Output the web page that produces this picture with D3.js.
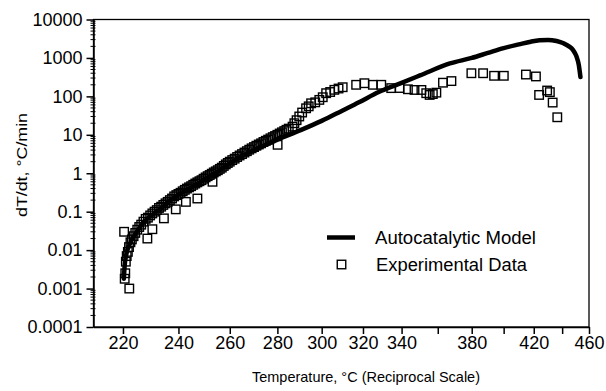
<!DOCTYPE html>
<html>
<head>
<meta charset="utf-8">
<script src="https://cdn.jsdelivr.net/npm/d3@7"></script>
<style>
  body { margin: 0; background: #fff; }
  svg text { font-family: "Liberation Sans", Arial, Helvetica, sans-serif; fill: #000; }
</style>
</head>
<body>
<svg id="chart" width="606" height="391"></svg>
<script>
// axis ticks
const tempTicks = [220, 240, 260, 280, 300, 320, 340, 360, 380, 400, 420, 440, 460];
const tempLabels = ["220", "240", "260", "280", "300", "320", "340", "", "380", "", "420", "", "460"];
const rateTicks = [1e-4, 1e-3, 1e-2, 1e-1, 1, 10, 100, 1000, 10000];
const rateLabels = ["0.0001", "0.001", "0.01", "0.1", "1", "10", "100", "1000", "10000"];

// autocatalytic model (degC, degC/min)
const modelTemp = [220.3, 220.6, 221.2, 222.1, 224.4, 228, 232.8, 239, 245.3, 250, 255, 260, 265, 270, 275, 280,
  290, 300, 310, 318, 328, 340, 350, 367, 380, 390, 400, 410, 418, 424, 430, 436, 441, 445, 448, 450.5, 452.3, 453.5];
const modelRate = [0.0018, 0.004, 0.008, 0.013, 0.027, 0.06, 0.11, 0.25, 0.45, 0.7, 1.1, 1.8, 2.8, 4.0, 5.5, 7.5,
  13, 23, 43, 70, 130, 225, 350, 720, 1000, 1350, 1800, 2250, 2650, 2880, 2950, 2750, 2400, 2000, 1600, 1100, 650, 320];

// experimental data
const expTemp = [
  220.4, 220.6, 222.2, 220.8, 221.0, 221.3, 221.7, 222.1, 222.6, 223.1, 223.7, 224.3, 225.0, 225.7, 226.4, 227.2,
  228.0, 228.8, 229.6, 230.4, 231.2, 232.0, 232.8, 233.6, 234.4, 235.2, 236.0, 236.8, 237.6, 238.4, 239.2, 240.0,
  240.8, 241.6, 242.4, 243.2, 244.0, 244.8, 245.6, 246.4, 247.2, 248.0, 248.8, 249.6, 250.4, 251.2, 252.0, 252.8,
  253.6, 254.4, 255.2, 256.0, 256.8, 257.6, 258.4, 259.2, 260.0, 261.0, 262.0, 263.0, 264.0, 265.0, 266.0, 267.0,
  268.0, 269.0, 270.0, 271.0, 272.0, 273.0, 274.0, 275.0, 276.0, 277.0, 278.0, 279.0, 280.0, 281.0, 282.0, 283.0,
  284.0, 285.0,
  228.6, 230.4, 234.6, 239.0, 242.8, 247.2, 253.1, 280.1,
  286.7, 287.5, 288.5, 289.7, 291, 292.8, 294, 295.1, 297, 298.9, 300.5, 302.1, 304, 306, 308, 310,
  316.6, 320.7, 325, 329.3, 334.5, 338.9, 343.4, 347, 350.8, 353.5, 355.4, 357.2, 359.2, 363, 367.9,
  379.8, 387, 393.9, 400.1, 414.7, 421.5, 423.7, 429.3, 431.2, 433.2, 436.5];
const expRate = [
  0.03, 0.0018, 0.001, 0.0025, 0.005, 0.007, 0.009, 0.012, 0.016, 0.019, 0.023, 0.028, 0.034, 0.04, 0.046, 0.055,
  0.065, 0.07, 0.08, 0.09, 0.1, 0.11, 0.125, 0.135, 0.15, 0.165, 0.18, 0.2, 0.22, 0.25, 0.27, 0.29,
  0.31, 0.34, 0.37, 0.4, 0.43, 0.46, 0.5, 0.54, 0.58, 0.62, 0.66, 0.72, 0.78, 0.84, 0.9, 0.97,
  1.05, 1.12, 1.2, 1.3, 1.4, 1.55, 1.7, 1.85, 2.0, 2.2, 2.4, 2.65, 2.9, 3.15, 3.45, 3.75,
  4.1, 4.45, 4.8, 5.2, 5.6, 6.0, 6.5, 7.0, 7.5, 8.1, 8.7, 9.3, 10.0, 10.8, 11.6, 12.5,
  13.5, 14.5,
  0.02, 0.035, 0.067, 0.115, 0.18, 0.22, 0.6, 5.5,
  16.3, 20, 24, 30, 38, 49, 55, 66, 70, 81, 95, 121, 130, 148, 160, 173,
  200, 220, 200, 200, 164, 165, 153, 147, 147, 121, 109, 115, 125, 227, 250,
  400, 400, 343, 343, 370, 330, 109, 142, 129, 69, 28.6];

const svg = d3.select("#chart");
const margin = {top: 19.5, right: 17, bottom: 64, left: 93.5};
const width = 606 - margin.left - margin.right;
const height = 391 - margin.top - margin.bottom;
const g = svg.append("g").attr("transform", "translate(" + margin.left + "," + margin.top + ")");

const inv = t => 1 / (t + 273.15);
// reciprocal temperature scale
const xr = d3.scaleLinear().domain([inv(210), inv(460)]).range([0, width]);
const x = t => xr(inv(t));
const y = d3.scaleLog().domain([1e-4, 1e4]).range([height, 0]);

const tickFont = "18px";

// frame
g.append("rect")
  .attr("width", width).attr("height", height)
  .attr("fill", "none").attr("stroke", "#000").attr("stroke-width", 1.3);

// x axis
const xAxis = d3.axisBottom(xr)
  .tickValues(tempTicks.map(inv))
  .tickFormat((d, i) => tempLabels[i])
  .tickSize(7).tickSizeOuter(0).tickPadding(2);
const gx = g.append("g").attr("transform", "translate(0," + height + ")").call(xAxis);
gx.selectAll("path, line").attr("stroke", "#000").attr("stroke-width", 1.5);
gx.selectAll("text").style("font-size", tickFont);

// y axis
const yAxis = d3.axisLeft(y)
  .tickValues(rateTicks)
  .tickFormat((d, i) => rateLabels[i])
  .tickSize(7).tickSizeOuter(0).tickPadding(4);
const gy = g.append("g").call(yAxis);
gy.selectAll("path, line").attr("stroke", "#000").attr("stroke-width", 1.5);
gy.selectAll("text").style("font-size", tickFont);

// minor log ticks
const minors = [];
rateTicks.slice(0, -1).forEach(d => {
  for (let k = 2; k <= 9; k++) minors.push(d * k);
});
g.append("g").selectAll("line").data(minors).enter().append("line")
  .attr("x1", -3).attr("x2", 2)
  .attr("y1", d => y(d)).attr("y2", d => y(d))
  .attr("stroke", "#000").attr("stroke-width", 1);

// model curve
const line = d3.line()
  .x((d, i) => x(modelTemp[i]))
  .y((d, i) => y(modelRate[i]))
  .curve(d3.curveMonotoneX);
g.append("path")
  .datum(modelTemp)
  .attr("d", line)
  .attr("fill", "none")
  .attr("stroke", "#000")
  .attr("stroke-width", 4.5)
  .attr("stroke-linecap", "round");

// experimental points
const sq = 8.5;
g.append("g").selectAll("rect").data(expTemp).enter().append("rect")
  .attr("x", (d, i) => x(d) - sq / 2)
  .attr("y", (d, i) => y(expRate[i]) - sq / 2)
  .attr("width", sq).attr("height", sq)
  .attr("fill", "none").attr("stroke", "#000").attr("stroke-width", 1.4);

// legend
const lg = svg.append("g");
lg.append("line").attr("x1", 327).attr("x2", 355).attr("y1", 237.5).attr("y2", 237.5)
  .attr("stroke", "#000").attr("stroke-width", 4.5);
lg.append("text").attr("x", 375).attr("y", 237.5).attr("dy", "0.35em")
  .style("font-size", "17.5px").attr("textLength", 161).attr("lengthAdjust", "spacingAndGlyphs")
  .text("Autocatalytic Model");
lg.append("rect").attr("x", 341.5 - sq / 2).attr("y", 264.5 - sq / 2).attr("width", sq).attr("height", sq)
  .attr("fill", "none").attr("stroke", "#000").attr("stroke-width", 1.4);
lg.append("text").attr("x", 376).attr("y", 264.5).attr("dy", "0.35em")
  .style("font-size", "17.5px").attr("textLength", 151).attr("lengthAdjust", "spacingAndGlyphs")
  .text("Experimental Data");

// axis titles
svg.append("text")
  .attr("x", 366).attr("y", 377).attr("dy", "0.35em")
  .attr("text-anchor", "middle")
  .style("font-size", "15px")
  .attr("textLength", 228).attr("lengthAdjust", "spacingAndGlyphs")
  .text("Temperature, °C (Reciprocal Scale)");
svg.append("text")
  .attr("transform", "translate(22,165) rotate(-90)")
  .attr("dy", "0.35em")
  .attr("text-anchor", "middle")
  .style("font-size", "15px")
  .attr("textLength", 104).attr("lengthAdjust", "spacingAndGlyphs")
  .text("dT/dt, °C/min");
</script>
</body>
</html>
